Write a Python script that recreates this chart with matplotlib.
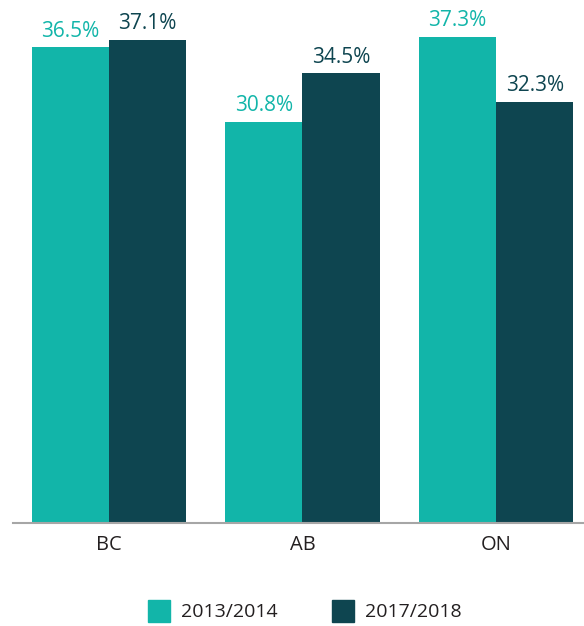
import numpy as np
import matplotlib.pyplot as plt
from matplotlib.patches import Patch

plt.rcParams['font.family'] = ['Open Sans', 'DejaVu Sans']

regions = ['BC', 'AB', 'ON']
series = ['2013/2014', '2017/2018']
vals_2013 = [36.5, 30.8, 37.3]
vals_2017 = [37.1, 34.5, 32.3]
colors = ['#12B5A9', '#0E4550']

fig = plt.figure(figsize=(5.84, 6.26), dpi=100)
ax = fig.add_axes([13 / 584, 1 - 523 / 626, 1 - 13 / 584, 523 / 626])

x = np.arange(len(regions))
w = 0.4
for off, vals, c in [(-w / 2, vals_2013, colors[0]), (w / 2, vals_2017, colors[1])]:
    bars = ax.bar(x + off, vals, width=w, color=c)
    for b, v in zip(bars, vals):
        ax.text(b.get_x() + b.get_width() / 2, v + 0.45, f'{v}%', ha='center', va='bottom',
                fontsize=15, color=c)

ax.set_xlim(-0.496, 2.455)
ax.set_ylim(0, 40.14)
ax.set_xticks(x)
ax.set_xticklabels(regions, fontsize=14.5, color='#231F20')
ax.tick_params(axis='x', length=0, pad=9)
ax.set_yticks([])
for s in ['top', 'right', 'left']:
    ax.spines[s].set_visible(False)
ax.spines['bottom'].set_color('#A6A6A6')
ax.spines['bottom'].set_linewidth(1.5)

handles = [Patch(color=c) for c in colors]
leg = fig.legend(handles, series, loc='center', bbox_to_anchor=(305 / 584, 1 - 611 / 626),
                 ncol=2, frameon=False, fontsize=14, handlelength=1.13, handleheight=1.36,
                 handletextpad=0.57, columnspacing=2.8)
for t in leg.get_texts():
    t.set_color('#231F20')

fig.savefig('out.png', dpi=100)
